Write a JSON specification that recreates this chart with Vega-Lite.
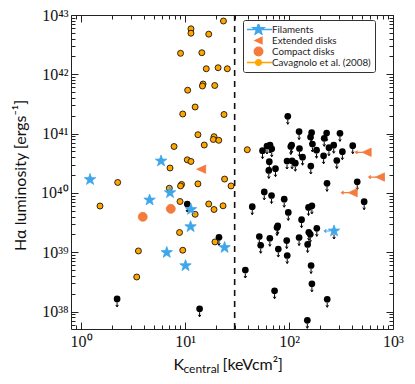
{
  "$schema": "https://vega.github.io/schema/vega-lite/v6.json",
  "autosize": {"type": "none"},
  "padding": {"left": 71, "top": 15, "right": 22, "bottom": 55},
  "width": 322,
  "height": 314,
  "background": "white",
  "config": {
    "view": {"stroke": null},
    "axis": {"grid": false, "domainColor": "#222", "tickColor": "#222", "domainWidth": 1, "tickWidth": 1, "labelColor": "#111", "titleColor": "#111", "labelFlush": false, "labelOverlap": false, "labelBound": false}
  },
  "data": {
    "values": [
      {"K": 23.4, "L": 7.92e42, "type": "Cavagnolo et al. (2008)", "ul": 0, "xl": 0},
      {"K": 11.4, "L": 5.85e42, "type": "Cavagnolo et al. (2008)", "ul": 0, "xl": 0},
      {"K": 11.4, "L": 4.93e42, "type": "Cavagnolo et al. (2008)", "ul": 0, "xl": 0},
      {"K": 16.9, "L": 4.75e42, "type": "Cavagnolo et al. (2008)", "ul": 0, "xl": 0},
      {"K": 9.05, "L": 2.26e42, "type": "Cavagnolo et al. (2008)", "ul": 0, "xl": 0},
      {"K": 14.5, "L": 2.31e42, "type": "Cavagnolo et al. (2008)", "ul": 0, "xl": 0},
      {"K": 16.0, "L": 1.24e42, "type": "Cavagnolo et al. (2008)", "ul": 0, "xl": 0},
      {"K": 20.8, "L": 1.29e42, "type": "Cavagnolo et al. (2008)", "ul": 0, "xl": 0},
      {"K": 25.5, "L": 1.24e42, "type": "Cavagnolo et al. (2008)", "ul": 0, "xl": 0},
      {"K": 14.9, "L": 6.86e41, "type": "Cavagnolo et al. (2008)", "ul": 0, "xl": 0},
      {"K": 14.7, "L": 6.35e41, "type": "Cavagnolo et al. (2008)", "ul": 0, "xl": 0},
      {"K": 19.3, "L": 6.47e41, "type": "Cavagnolo et al. (2008)", "ul": 0, "xl": 0},
      {"K": 10.6, "L": 5.39e41, "type": "Cavagnolo et al. (2008)", "ul": 0, "xl": 0},
      {"K": 12.5, "L": 2.81e41, "type": "Cavagnolo et al. (2008)", "ul": 0, "xl": 0},
      {"K": 9.5, "L": 2.14e41, "type": "Cavagnolo et al. (2008)", "ul": 0, "xl": 0},
      {"K": 23.7, "L": 2.10e41, "type": "Cavagnolo et al. (2008)", "ul": 0, "xl": 0},
      {"K": 13.3, "L": 9.58e40, "type": "Cavagnolo et al. (2008)", "ul": 0, "xl": 0},
      {"K": 19.0, "L": 8.87e40, "type": "Cavagnolo et al. (2008)", "ul": 0, "xl": 0},
      {"K": 18.7, "L": 7.96e40, "type": "Cavagnolo et al. (2008)", "ul": 0, "xl": 0},
      {"K": 21.1, "L": 7.71e40, "type": "Cavagnolo et al. (2008)", "ul": 0, "xl": 0},
      {"K": 7.84, "L": 6.06e40, "type": "Cavagnolo et al. (2008)", "ul": 0, "xl": 0},
      {"K": 15.3, "L": 6.42e40, "type": "Cavagnolo et al. (2008)", "ul": 0, "xl": 0},
      {"K": 10.5, "L": 3.61e40, "type": "Cavagnolo et al. (2008)", "ul": 0, "xl": 0},
      {"K": 11.4, "L": 3.39e40, "type": "Cavagnolo et al. (2008)", "ul": 0, "xl": 0},
      {"K": 7.17, "L": 2.63e40, "type": "Cavagnolo et al. (2008)", "ul": 0, "xl": 0},
      {"K": 2.25, "L": 1.50e40, "type": "Cavagnolo et al. (2008)", "ul": 0, "xl": 0},
      {"K": 9.26, "L": 1.39e40, "type": "Cavagnolo et al. (2008)", "ul": 0, "xl": 0},
      {"K": 9.05, "L": 1.31e40, "type": "Cavagnolo et al. (2008)", "ul": 0, "xl": 0},
      {"K": 13.3, "L": 1.42e40, "type": "Cavagnolo et al. (2008)", "ul": 0, "xl": 0},
      {"K": 7.06, "L": 1.20e40, "type": "Cavagnolo et al. (2008)", "ul": 0, "xl": 0},
      {"K": 24.0, "L": 1.71e40, "type": "Cavagnolo et al. (2008)", "ul": 0, "xl": 0},
      {"K": 27.7, "L": 1.31e40, "type": "Cavagnolo et al. (2008)", "ul": 0, "xl": 0},
      {"K": 39.7, "L": 5.35e40, "type": "Cavagnolo et al. (2008)", "ul": 0, "xl": 0},
      {"K": 1.52, "L": 6.01e39, "type": "Cavagnolo et al. (2008)", "ul": 0, "xl": 0},
      {"K": 8.95, "L": 7.16e39, "type": "Cavagnolo et al. (2008)", "ul": 0, "xl": 0},
      {"K": 12.5, "L": 4.36e39, "type": "Cavagnolo et al. (2008)", "ul": 0, "xl": 0},
      {"K": 16.9, "L": 6.50e39, "type": "Cavagnolo et al. (2008)", "ul": 0, "xl": 0},
      {"K": 19.0, "L": 5.25e39, "type": "Cavagnolo et al. (2008)", "ul": 0, "xl": 0},
      {"K": 23.2, "L": 6.06e39, "type": "Cavagnolo et al. (2008)", "ul": 0, "xl": 0},
      {"K": 8.85, "L": 2.15e39, "type": "Cavagnolo et al. (2008)", "ul": 0, "xl": 0},
      {"K": 19.4, "L": 1.49e39, "type": "Cavagnolo et al. (2008)", "ul": 0, "xl": 0},
      {"K": 3.56, "L": 1.05e39, "type": "Cavagnolo et al. (2008)", "ul": 0, "xl": 0},
      {"K": 9.5, "L": 1.08e39, "type": "Cavagnolo et al. (2008)", "ul": 0, "xl": 0},
      {"K": 3.43, "L": 3.82e38, "type": "Cavagnolo et al. (2008)", "ul": 0, "xl": 0},
      {"K": 3.92, "L": 3.95e39, "type": "Compact disks", "ul": 0, "xl": 0},
      {"K": 7.29, "L": 5.39e39, "type": "Compact disks", "ul": 0, "xl": 0},
      {"K": 14.3, "L": 2.51e40, "type": "Extended disks", "ul": 0, "xl": 0},
      {"K": 558, "L": 4.84e40, "type": "Extended disks", "ul": 0, "xl": 1},
      {"K": 750, "L": 1.85e40, "type": "Extended disks", "ul": 0, "xl": 1},
      {"K": 410, "L": 1.01e40, "type": "Extended disks", "ul": 0, "xl": 1},
      {"K": 1.22, "L": 1.68e40, "type": "Filaments", "ul": 0, "xl": 0},
      {"K": 5.88, "L": 3.45e40, "type": "Filaments", "ul": 0, "xl": 0},
      {"K": 7.17, "L": 1.01e40, "type": "Filaments", "ul": 0, "xl": 0},
      {"K": 4.56, "L": 7.59e39, "type": "Filaments", "ul": 0, "xl": 0},
      {"K": 11.4, "L": 5.25e39, "type": "Filaments", "ul": 0, "xl": 0},
      {"K": 11.3, "L": 2.69e39, "type": "Filaments", "ul": 0, "xl": 0},
      {"K": 6.67, "L": 9.89e38, "type": "Filaments", "ul": 0, "xl": 0},
      {"K": 10.1, "L": 5.92e38, "type": "Filaments", "ul": 0, "xl": 0},
      {"K": 24.0, "L": 1.20e39, "type": "Filaments", "ul": 0, "xl": 0},
      {"K": 271, "L": 2.28e39, "type": "Filaments", "ul": 1, "xl": 1},
      {"K": 10.5, "L": 6.50e39, "type": "limit", "ul": 1, "xl": 0},
      {"K": 21.2, "L": 1.78e39, "type": "limit", "ul": 1, "xl": 0},
      {"K": 2.22, "L": 1.63e38, "type": "limit", "ul": 1, "xl": 0},
      {"K": 13.8, "L": 1.11e38, "type": "limit", "ul": 1, "xl": 0},
      {"K": 97.3, "L": 1.96e41, "type": "limit", "ul": 1, "xl": 0},
      {"K": 125, "L": 1.08e41, "type": "limit", "ul": 1, "xl": 0},
      {"K": 161, "L": 8.77e40, "type": "limit", "ul": 1, "xl": 0},
      {"K": 165, "L": 1.04e41, "type": "limit", "ul": 1, "xl": 0},
      {"K": 230, "L": 1.02e41, "type": "limit", "ul": 1, "xl": 0},
      {"K": 218, "L": 8.33e40, "type": "limit", "ul": 1, "xl": 0},
      {"K": 309, "L": 1.01e41, "type": "limit", "ul": 1, "xl": 0},
      {"K": 106, "L": 6.42e40, "type": "limit", "ul": 1, "xl": 0},
      {"K": 104, "L": 6.06e40, "type": "limit", "ul": 1, "xl": 0},
      {"K": 126, "L": 5.61e40, "type": "limit", "ul": 1, "xl": 0},
      {"K": 168, "L": 6.68e40, "type": "limit", "ul": 1, "xl": 0},
      {"K": 184, "L": 5.25e40, "type": "limit", "ul": 1, "xl": 0},
      {"K": 242, "L": 5.78e40, "type": "limit", "ul": 1, "xl": 0},
      {"K": 269, "L": 6.37e40, "type": "limit", "ul": 1, "xl": 0},
      {"K": 410, "L": 6.25e40, "type": "limit", "ul": 1, "xl": 0},
      {"K": 61.4, "L": 6.18e40, "type": "limit", "ul": 1, "xl": 0},
      {"K": 65.7, "L": 6.42e40, "type": "limit", "ul": 1, "xl": 0},
      {"K": 68.2, "L": 5.54e40, "type": "limit", "ul": 1, "xl": 0},
      {"K": 55.6, "L": 5.15e40, "type": "limit", "ul": 1, "xl": 0},
      {"K": 215, "L": 4.22e40, "type": "limit", "ul": 1, "xl": 0},
      {"K": 326, "L": 4.95e40, "type": "limit", "ul": 1, "xl": 0},
      {"K": 135, "L": 4.00e40, "type": "limit", "ul": 1, "xl": 0},
      {"K": 95.7, "L": 3.45e40, "type": "limit", "ul": 1, "xl": 0},
      {"K": 107, "L": 3.48e40, "type": "limit", "ul": 1, "xl": 0},
      {"K": 115, "L": 3.17e40, "type": "limit", "ul": 1, "xl": 0},
      {"K": 64.6, "L": 3.36e40, "type": "limit", "ul": 1, "xl": 0},
      {"K": 162, "L": 2.84e40, "type": "limit", "ul": 1, "xl": 0},
      {"K": 288, "L": 3.52e40, "type": "limit", "ul": 1, "xl": 0},
      {"K": 74.1, "L": 2.56e40, "type": "limit", "ul": 1, "xl": 0},
      {"K": 63.9, "L": 2.39e40, "type": "limit", "ul": 1, "xl": 0},
      {"K": 232, "L": 1.45e40, "type": "limit", "ul": 1, "xl": 0},
      {"K": 453, "L": 1.54e40, "type": "limit", "ul": 1, "xl": 0},
      {"K": 57.8, "L": 1.04e40, "type": "limit", "ul": 1, "xl": 0},
      {"K": 67.9, "L": 9.04e39, "type": "limit", "ul": 1, "xl": 0},
      {"K": 89.9, "L": 7.83e39, "type": "limit", "ul": 1, "xl": 0},
      {"K": 528, "L": 7.11e39, "type": "limit", "ul": 1, "xl": 0},
      {"K": 44.3, "L": 5.85e39, "type": "limit", "ul": 1, "xl": 0},
      {"K": 98.4, "L": 4.69e39, "type": "limit", "ul": 1, "xl": 0},
      {"K": 154, "L": 5.68e39, "type": "limit", "ul": 1, "xl": 0},
      {"K": 166, "L": 6.06e39, "type": "limit", "ul": 1, "xl": 0},
      {"K": 132, "L": 3.53e39, "type": "limit", "ul": 1, "xl": 0},
      {"K": 77.9, "L": 2.77e39, "type": "limit", "ul": 1, "xl": 0},
      {"K": 76.7, "L": 2.61e39, "type": "limit", "ul": 1, "xl": 0},
      {"K": 185, "L": 2.53e39, "type": "limit", "ul": 1, "xl": 0},
      {"K": 51.8, "L": 1.84e39, "type": "limit", "ul": 1, "xl": 0},
      {"K": 65.4, "L": 1.72e39, "type": "limit", "ul": 1, "xl": 0},
      {"K": 125, "L": 1.77e39, "type": "limit", "ul": 1, "xl": 0},
      {"K": 155, "L": 2.17e39, "type": "limit", "ul": 1, "xl": 0},
      {"K": 160, "L": 2.00e39, "type": "limit", "ul": 1, "xl": 0},
      {"K": 95.0, "L": 1.57e39, "type": "limit", "ul": 1, "xl": 0},
      {"K": 53.4, "L": 1.31e39, "type": "limit", "ul": 1, "xl": 0},
      {"K": 78.9, "L": 1.13e39, "type": "limit", "ul": 1, "xl": 0},
      {"K": 151, "L": 1.35e39, "type": "limit", "ul": 1, "xl": 0},
      {"K": 96.1, "L": 8.80e38, "type": "limit", "ul": 1, "xl": 0},
      {"K": 38.0, "L": 5.01e38, "type": "limit", "ul": 1, "xl": 0},
      {"K": 163, "L": 5.97e38, "type": "limit", "ul": 1, "xl": 0},
      {"K": 166, "L": 2.93e38, "type": "limit", "ul": 1, "xl": 0},
      {"K": 72.6, "L": 2.24e38, "type": "limit", "ul": 1, "xl": 0},
      {"K": 233, "L": 1.61e38, "type": "limit", "ul": 1, "xl": 0},
      {"K": 150, "L": 7.11e37, "type": "limit", "ul": 1, "xl": 0}
    ]
  },
  "resolve": {"axis": {"x": "independent", "y": "independent"}, "scale": {"fill": "independent", "stroke": "independent", "shape": "independent"}},
  "layer": [
    {
      "data": {"values": [{"K": 30}]},
      "mark": {"type": "rule", "color": "#111", "strokeWidth": 1.6, "strokeDash": [6, 5]},
      "encoding": {
        "x": {"field": "K", "type": "quantitative", "scale": {"type": "log", "domain": [0.8, 1000], "nice": false},
          "axis": {"orient": "bottom", "ticks": false, "labels": false, "domain": false, "title": "[keVcm²]", "titleX": 151, "titleY": 40, "titleAlign": "left", "titleBaseline": "alphabetic", "titleFont": "Lato", "titleFontSize": 16, "titleFontWeight": "normal"}}
      }
    },
    {
      "transform": [{"filter": "datum.ul == 1"}],
      "mark": {"type": "point", "filled": false, "shape": "M0,0.85L0,2M-0.32,1.5L0,2L0.32,1.5", "size": 64, "stroke": "#000", "strokeWidth": 1, "opacity": 1},
      "encoding": {
        "x": {"field": "K", "type": "quantitative", "scale": {"type": "log", "domain": [0.8, 1000], "nice": false},
          "axis": {"orient": "top", "values": [1, 10, 100, 1000], "tickSize": -7, "labels": false, "title": null, "domain": true}},
        "y": {"field": "L", "type": "quantitative", "scale": {"type": "log", "domain": [5.07e37, 1e43], "nice": false},
          "axis": {"orient": "right", "values": [1e38, 1e39, 1e40, 1e41, 1e42, 1e43], "tickSize": -7, "labels": false, "title": null, "domain": true}}
      }
    },
    {
      "transform": [{"filter": "datum.xl == 1 && datum.type == 'Extended disks'"}],
      "mark": {"type": "point", "filled": false, "shape": "M-1,0L-2.8,0M-2.3,-0.4L-2.8,0L-2.3,0.4", "size": 64, "stroke": "#f47b3c", "strokeWidth": 1.2, "opacity": 1},
      "encoding": {
        "x": {"field": "K", "type": "quantitative", "scale": {"type": "log", "domain": [0.8, 1000], "nice": false},
          "axis": {"orient": "top", "values": [0.9, 2, 3, 4, 5, 6, 7, 8, 9, 20, 30, 40, 50, 60, 70, 80, 90, 200, 300, 400, 500, 600, 700, 800, 900], "tickSize": -4, "labels": false, "title": null, "domain": false}},
        "y": {"field": "L", "type": "quantitative", "scale": {"type": "log", "domain": [5.07e37, 1e43], "nice": false},
          "axis": {"orient": "right", "values": [6e37, 7e37, 8e37, 9e37, 2e38, 3e38, 4e38, 5e38, 6e38, 7e38, 8e38, 9e38, 2e39, 3e39, 4e39, 5e39, 6e39, 7e39, 8e39, 9e39, 2e40, 3e40, 4e40, 5e40, 6e40, 7e40, 8e40, 9e40, 2e41, 3e41, 4e41, 5e41, 6e41, 7e41, 8e41, 9e41, 2e42, 3e42, 4e42, 5e42, 6e42, 7e42, 8e42, 9e42], "tickSize": -4, "labels": false, "title": null, "domain": false}}
      }
    },
    {
      "transform": [{"filter": "datum.xl == 1 && datum.type == 'Filaments'"}],
      "mark": {"type": "point", "filled": false, "shape": "M-1,0L-2.4,0M-1.95,-0.4L-2.4,0L-1.95,0.4", "size": 64, "stroke": "#3ea6ea", "strokeWidth": 1.2, "opacity": 1},
      "encoding": {
        "x": {"field": "K", "type": "quantitative", "scale": {"type": "log", "domain": [0.8, 1000], "nice": false}, "axis": null},
        "y": {"field": "L", "type": "quantitative", "scale": {"type": "log", "domain": [5.07e37, 1e43], "nice": false}, "axis": null}
      }
    },
    {
      "transform": [{"filter": "datum.type == 'limit'"}],
      "mark": {"type": "point", "filled": true, "shape": "circle", "size": 45, "color": "#000", "opacity": 1},
      "encoding": {
        "x": {"field": "K", "type": "quantitative", "scale": {"type": "log", "domain": [0.8, 1000], "nice": false},
          "axis": {"orient": "bottom", "values": [0.9, 2, 3, 4, 5, 6, 7, 8, 9, 20, 30, 40, 50, 60, 70, 80, 90, 200, 300, 400, 500, 600, 700, 800, 900], "tickSize": -4, "labels": false, "domain": false, "title": "central", "titleX": 112, "titleY": 43, "titleAlign": "left", "titleBaseline": "alphabetic", "titleFont": "Lato", "titleFontSize": 12, "titleFontWeight": "normal"}},
        "y": {"field": "L", "type": "quantitative", "scale": {"type": "log", "domain": [5.07e37, 1e43], "nice": false},
          "axis": {"orient": "left", "values": [6e37, 7e37, 8e37, 9e37, 2e38, 3e38, 4e38, 5e38, 6e38, 7e38, 8e38, 9e38, 2e39, 3e39, 4e39, 5e39, 6e39, 7e39, 8e39, 9e39, 2e40, 3e40, 4e40, 5e40, 6e40, 7e40, 8e40, 9e40, 2e41, 3e41, 4e41, 5e41, 6e41, 7e41, 8e41, 9e41, 2e42, 3e42, 4e42, 5e42, 6e42, 7e42, 8e42, 9e42], "tickSize": -4, "labels": false, "title": null, "domain": false}}
      }
    },
    {
      "transform": [{"filter": "datum.type != 'limit'"}],
      "mark": {"type": "point", "filled": true, "strokeWidth": 0.8, "opacity": 1},
      "encoding": {
        "x": {"field": "K", "type": "quantitative", "scale": {"type": "log", "domain": [0.8, 1000], "nice": false},
          "axis": {"orient": "bottom", "values": [1, 10, 100, 1000], "tickSize": -7, "labelPadding": 11, "labelExpr": "['10⁰','10¹','10²','10³'][round(log(datum.value)/LN10)]", "labelFont": "Liberation Serif", "labelFontSize": 16, "domain": true, "title": "K", "titleX": 102, "titleY": 40, "titleAlign": "left", "titleBaseline": "alphabetic", "titleFont": "Lato", "titleFontSize": 16, "titleFontWeight": "normal"}},
        "y": {"field": "L", "type": "quantitative", "scale": {"type": "log", "domain": [5.07e37, 1e43], "nice": false},
          "axis": {"orient": "left", "values": [1e38, 1e39, 1e40, 1e41, 1e42, 1e43], "tickSize": -7, "labelPadding": 10, "labelExpr": "['10³⁸','10³⁹','10⁴⁰','10⁴¹','10⁴²','10⁴³'][round(log(datum.value)/LN10)-38]", "labelFont": "Liberation Serif", "labelFontSize": 16, "domain": true, "title": "Hα luminosity [ergs⁻¹]", "titleAngle": -90, "titleX": -46, "titleY": 160, "titleAlign": "center", "titleBaseline": "alphabetic", "titleFont": "Lato", "titleFontSize": 16, "titleFontWeight": "normal"}},
        "shape": {"field": "type", "type": "nominal", "legend": null,
          "scale": {"domain": ["Filaments", "Extended disks", "Compact disks", "Cavagnolo et al. (2008)"], "range": ["M0,-1L0.235,-0.324L0.951,-0.309L0.38,0.124L0.588,0.809L0,0.4L-0.588,0.809L-0.38,0.124L-0.951,-0.309L-0.235,-0.324Z", "M-1,0L1,-0.92L1,0.92Z", "circle", "circle"]}},
        "fill": {"field": "type", "type": "nominal", "legend": null,
          "scale": {"domain": ["Filaments", "Extended disks", "Compact disks", "Cavagnolo et al. (2008)"], "range": ["#3ea6ea", "#f47b3c", "#f47b3c", "#ffa500"]}},
        "stroke": {"field": "type", "type": "nominal", "legend": null,
          "scale": {"domain": ["Filaments", "Extended disks", "Compact disks", "Cavagnolo et al. (2008)"], "range": ["#3ea6ea", "#f47b3c", "#f47b3c", "#000000"]}},
        "size": {"field": "type", "type": "nominal", "legend": null,
          "scale": {"type": "ordinal", "domain": ["Filaments", "Extended disks", "Compact disks", "Cavagnolo et al. (2008)"], "range": [144, 81, 81, 36]}}
      }
    },
    {
      "transform": [{"filter": "datum.type == 'none'"}],
      "mark": {"type": "point", "filled": true, "strokeWidth": 1.3, "opacity": 1, "size": 729},
      "encoding": {
        "x": {"field": "K", "type": "quantitative", "scale": {"type": "log", "domain": [0.8, 1000], "nice": false}, "axis": null},
        "y": {"field": "L", "type": "quantitative", "scale": {"type": "log", "domain": [5.07e37, 1e43], "nice": false}, "axis": null},
        "shape": {"field": "type", "type": "nominal",
          "scale": {"domain": ["Filaments", "Extended disks", "Compact disks", "Cavagnolo et al. (2008)"], "range": [
            "M-1,0L1,0M0,-0.44L0.103,-0.143L0.418,-0.136L0.167,0.055L0.259,0.356L0,0.176L-0.259,0.356L-0.167,0.055L-0.418,-0.136L-0.103,-0.143Z",
            "M-0.26,0L0.26,-0.24L0.26,0.24Z",
            "M0.32,0A0.32,0.32,0,1,1,-0.32,0A0.32,0.32,0,1,1,0.32,0Z",
            "M-1,0L1,0M0.22,0A0.22,0.22,0,1,1,-0.22,0A0.22,0.22,0,1,1,0.22,0Z"]}},
        "fill": {"field": "type", "type": "nominal",
          "scale": {"domain": ["Filaments", "Extended disks", "Compact disks", "Cavagnolo et al. (2008)"], "range": ["#3ea6ea", "#f47b3c", "#f47b3c", "#ffa500"]},
          "legend": {"title": null, "orient": "none", "legendX": 172, "legendY": 5, "strokeColor": "#333", "fillColor": "white", "padding": 4, "cornerRadius": 2, "labelFont": "Lato", "labelFontSize": 9.8, "labelColor": "#222", "clipHeight": 11, "rowPadding": 0, "symbolOffset": -3, "labelOffset": -1, "symbolSize": 729, "symbolStrokeWidth": 1.3}},
        "stroke": {"field": "type", "type": "nominal",
          "scale": {"domain": ["Filaments", "Extended disks", "Compact disks", "Cavagnolo et al. (2008)"], "range": ["#3ea6ea", "#f47b3c", "#f47b3c", "#ffa500"]}}
      }
    }
  ]
}
